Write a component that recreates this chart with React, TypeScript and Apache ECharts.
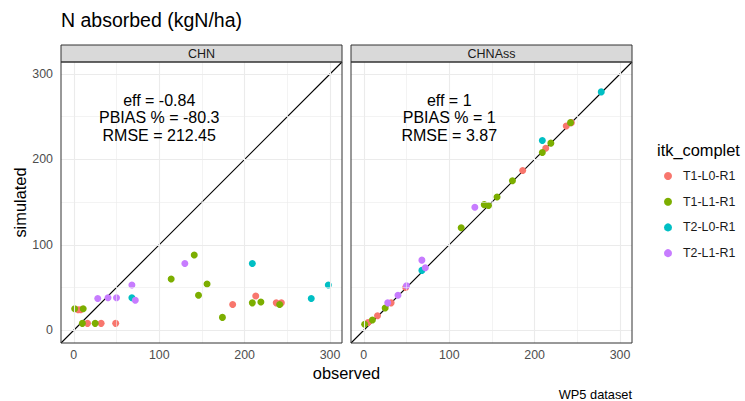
import React, { useEffect, useRef } from "react";
import * as echarts from "echarts";

const GROUPS = ["T1-L0-R1", "T1-L1-R1", "T2-L0-R1", "T2-L1-R1"];
const COLORS = ["#F8766D", "#7CAE00", "#00BFC4", "#C77CFF"];
const PANELS = ["CHN", "CHNAss"];
const TICKS = [0, 100, 200, 300];
const MINOR = [50, 150, 250];

// CHN panel
const chnT1L0Obs = [5, 8, 16, 32, 49, 186, 213, 237, 243];
const chnT1L0Sim = [24, 24, 8, 8, 8, 30, 40, 32, 32];
const chnT1L1Obs = [1, 11, 10, 25, 114, 141, 146, 156, 174, 209, 219, 241];
const chnT1L1Sim = [25, 25, 8, 8, 60, 88, 41, 54, 15, 32, 33, 30];
const chnT2L0Obs = [68, 209, 278, 298];
const chnT2L0Sim = [38, 78, 37, 53];
const chnT2L1Obs = [28, 40, 50, 68, 72, 130];
const chnT2L1Sim = [37, 38, 38, 53, 35, 78];

// CHNAss panel
const assT1L0Obs = [5, 16, 32, 49, 186, 213, 237, 243];
const assT1L0Sim = [9, 17, 32, 50, 187, 213, 239, 243];
const assT1L1Obs = [1, 10, 25, 114, 141, 146, 156, 174, 209, 219, 242];
const assT1L1Sim = [7, 12, 26, 120, 147, 146, 156, 175, 208, 219, 243];
const assT2L0Obs = [68, 209, 278];
const assT2L0Sim = [70, 222, 279];
const assT2L1Obs = [28, 40, 50, 72, 68, 130];
const assT2L1Sim = [32, 41, 52, 73, 82, 144];

const STATS = [
  ["eff = -0.84", "PBIAS % = -80.3", "RMSE = 212.45"],
  ["eff = 1", "PBIAS % = 1", "RMSE = 3.87"],
];
const STAT_POS = [100, 249];

const AXIS_MIN = -15;
const AXIS_MAX = 314;

const FONT = "Liberation Sans, Arial, Helvetica, sans-serif";

const zip = (a: number[], b: number[]) => a.map((v, i) => [v, b[i]]);

const PANEL_DATA = [
  [zip(chnT1L0Obs, chnT1L0Sim), zip(chnT1L1Obs, chnT1L1Sim), zip(chnT2L0Obs, chnT2L0Sim), zip(chnT2L1Obs, chnT2L1Sim)],
  [zip(assT1L0Obs, assT1L0Sim), zip(assT1L1Obs, assT1L1Sim), zip(assT2L0Obs, assT2L0Sim), zip(assT2L1Obs, assT2L1Sim)],
];

const GRID_LEFT = [61, 351];
const GRID_TOP = 62;
const GRID_W = 281;
const GRID_H = 281;

export default function App() {
  const ref = useRef<HTMLDivElement>(null);
  useEffect(() => {
    if (!ref.current) return;
    const chart = echarts.init(ref.current, undefined, { renderer: "svg" });

    const grids = GRID_LEFT.map((l) => ({
      left: l,
      top: GRID_TOP,
      width: GRID_W,
      height: GRID_H,
      show: true,
      backgroundColor: "#ffffff",
      borderWidth: 0,
    }));

    const xAxes = PANELS.map((_, i) => ({
      type: "value",
      gridIndex: i,
      min: AXIS_MIN,
      max: AXIS_MAX,
      axisLine: { show: false },
      splitLine: { show: false },
      axisTick: { show: true, length: 4, lineStyle: { color: "#333333", width: 1 }, customValues: TICKS },
      axisLabel: { show: true, customValues: TICKS, color: "#4d4d4d", fontSize: 12.4, margin: 6, fontFamily: FONT },
    }));
    const yAxes = PANELS.map((_, i) => ({
      type: "value",
      gridIndex: i,
      min: AXIS_MIN,
      max: AXIS_MAX,
      axisLine: { show: false },
      splitLine: { show: false },
      axisTick: { show: i === 0, length: 4, lineStyle: { color: "#333333", width: 1 }, customValues: TICKS },
      axisLabel: { show: i === 0, customValues: TICKS, color: "#4d4d4d", fontSize: 12.4, margin: 8, fontFamily: FONT },
    }));

    const series: any[] = [];
    PANELS.forEach((_, p) => {
      const gl: any[] = [];
      TICKS.forEach((t) => {
        gl.push({ xAxis: t, lineStyle: { color: "#ebebeb", width: 1.1, type: "solid" } });
        gl.push({ yAxis: t, lineStyle: { color: "#ebebeb", width: 1.1, type: "solid" } });
      });
      MINOR.forEach((t) => {
        gl.push({ xAxis: t, lineStyle: { color: "#ebebeb", width: 0.6, type: "solid" } });
        gl.push({ yAxis: t, lineStyle: { color: "#ebebeb", width: 0.6, type: "solid" } });
      });
      series.push({
        type: "line",
        xAxisIndex: p,
        yAxisIndex: p,
        data: [],
        z: 1,
        silent: true,
        markLine: { silent: true, symbol: ["none", "none"], label: { show: false }, animation: false, data: gl },
      });
      series.push({
        type: "line",
        xAxisIndex: p,
        yAxisIndex: p,
        data: [
          [AXIS_MIN, AXIS_MIN],
          [AXIS_MAX, AXIS_MAX],
        ],
        showSymbol: false,
        symbol: "none",
        z: 2,
        silent: true,
        lineStyle: { color: "#000000", width: 1.1 },
      });
      GROUPS.forEach((g, gi) => {
        series.push({
          type: "scatter",
          name: g,
          xAxisIndex: p,
          yAxisIndex: p,
          data: PANEL_DATA[p][gi],
          symbol: "circle",
          symbolSize: 7,
          z: 3,
          itemStyle: { color: COLORS[gi], opacity: 1 },
        });
      });
    });

    const graphics: any[] = [];
    PANELS.forEach((name, p) => {
      graphics.push({
        type: "rect",
        shape: { x: GRID_LEFT[p], y: 45, width: GRID_W, height: 17 },
        style: { fill: "#d9d9d9", stroke: "#333333", lineWidth: 1 },
        z: 10,
      });
      graphics.push({
        type: "text",
        x: GRID_LEFT[p] + GRID_W / 2,
        y: 54,
        style: { text: name, fill: "#1a1a1a", fontSize: 12.5, fontFamily: FONT, align: "center", verticalAlign: "middle" },
        z: 11,
      });
      graphics.push({
        type: "rect",
        shape: { x: GRID_LEFT[p], y: GRID_TOP, width: GRID_W, height: GRID_H },
        style: { fill: "none", stroke: "#333333", lineWidth: 1 },
        z: 10,
        silent: true,
      });
    });
    graphics.push({
      type: "text",
      x: 61,
      y: 20,
      style: { text: "N absorbed (kgN/ha)", fill: "#000000", fontSize: 19.5, fontFamily: FONT, align: "left", verticalAlign: "middle" },
    });
    graphics.push({
      type: "text",
      x: (GRID_LEFT[0] + GRID_LEFT[1] + GRID_W) / 2,
      y: 373,
      style: { text: "observed", fill: "#000000", fontSize: 16.4, fontFamily: FONT, align: "center", verticalAlign: "middle" },
    });
    graphics.push({
      type: "text",
      x: 20,
      y: GRID_TOP + GRID_H / 2,
      rotation: Math.PI / 2,
      style: { text: "simulated", fill: "#000000", fontSize: 16.4, fontFamily: FONT, align: "center", verticalAlign: "middle" },
    });
    graphics.push({
      type: "text",
      x: 657,
      y: 150,
      style: { text: "itk_complet", fill: "#000000", fontSize: 16.4, fontFamily: FONT, align: "left", verticalAlign: "middle" },
    });
    graphics.push({
      type: "text",
      x: 632,
      y: 394.5,
      style: { text: "WP5 dataset", fill: "#000000", fontSize: 12.8, fontFamily: FONT, align: "right", verticalAlign: "middle" },
    });

    chart.setOption({
      animation: false,
      backgroundColor: "#ffffff",
      grid: grids,
      xAxis: xAxes,
      yAxis: yAxes,
      legend: {
        data: GROUPS,
        orient: "vertical",
        left: 664,
        top: 169,
        padding: 0,
        itemWidth: 8,
        itemHeight: 8,
        itemGap: 11.7,
        icon: "circle",
        selectedMode: false,
        textStyle: { fontSize: 12.4, color: "#1a1a1a", fontFamily: FONT, lineHeight: 14, padding: [0, 0, 0, 6] },
      },
      graphic: graphics,
      series,
    });

    // statistics annotations placed at data coordinates through the grid's scales
    const statTexts = PANELS.map((_, p) => {
      const pt = chart.convertToPixel({ gridIndex: p }, STAT_POS) as number[];
      return {
        type: "text",
        x: pt[0],
        y: pt[1],
        z: 20,
        silent: true,
        style: {
          text: STATS[p].join("\n"),
          fill: "#000000",
          fontSize: 16,
          lineHeight: 17.5,
          fontFamily: FONT,
          align: "center",
          verticalAlign: "middle",
        },
      };
    });
    chart.setOption({ graphic: [...graphics, ...statTexts] });

    return () => chart.dispose();
  }, []);
  return <div ref={ref} style={{ position: "fixed", left: 0, top: 0, width: 745, height: 401 }} />;
}
